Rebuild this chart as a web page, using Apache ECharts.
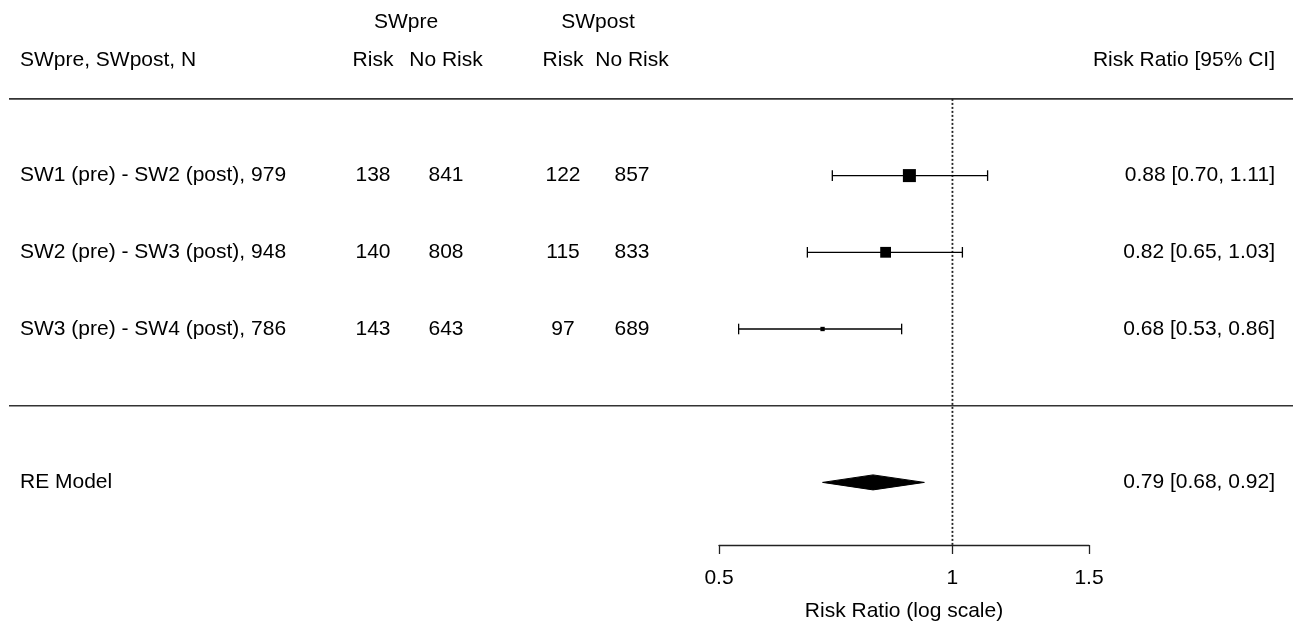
<!DOCTYPE html>
<html>
<head>
<meta charset="utf-8">
<script src="https://cdn.jsdelivr.net/npm/echarts@6/dist/echarts.min.js"></script>
<style>
  html, body { margin: 0; padding: 0; background: #fff; }
  #chart { width: 1293px; height: 622px; }
</style>
</head>
<body>
<div id="chart"></div>
<script>
// ---------------- data ----------------
const studyLabels = [
  "SW1 (pre) - SW2 (post), 979",
  "SW2 (pre) - SW3 (post), 948",
  "SW3 (pre) - SW4 (post), 786"
];
const preRisk    = [138, 140, 143];
const preNoRisk  = [841, 808, 643];
const postRisk   = [122, 115, 97];
const postNoRisk = [857, 833, 689];
const riskRatio  = [0.88, 0.82, 0.68];
const ciLower    = [0.70, 0.65, 0.53];
const ciUpper    = [1.11, 1.03, 0.86];

const pooledLabel = "RE Model";
const pooledRR    = [0.79];
const pooledLower = [0.68];
const pooledUpper = [0.92];

const axisTickValues = [0.5, 1, 1.5];
const groupHeaders   = ["SWpre", "SWpost"];
const columnHeaders  = ["Risk", "No Risk", "Risk", "No Risk"];
const leftHeader     = "SWpre, SWpost, N";
const rightHeader    = "Risk Ratio [95% CI]";
const axisTitle      = "Risk Ratio (log scale)";

// ---------------- layout / style ----------------
const FONT_FAMILY = '"Liberation Sans", Arial, sans-serif';
const FONT = '21px ' + FONT_FAMILY;
const TEXT_COLOR = '#000';
const LABEL_X = 20;
const COL_X = [373, 446, 563, 632];
const GROUP_X = [406, 598];
const RIGHT_X = 1275;
const LINE_X0 = 9, LINE_X1 = 1293;
const PX_PER_CEX = 8.67;
const CAP_HALF = 5.3;
const DIAMOND_HALF = 7.5;
const Y_MIN = -1.8162, Y_MAX = 5.2894;

const k = studyLabels.length;
const studyRows = studyLabels.map((_, i) => k - i);   // 3,2,1
const pooledRow = -1;
const headerLineRow = k + 1;  // 4
const sepLineRow = 0;
const colHeaderRow = k + 1.5;
const groupHeaderRow = k + 2;

// point sizes derived from sampling variances (metafor-style, plim 0.5..1.5)
const vi = studyLabels.map((_, i) =>
  1 / preRisk[i] - 1 / (preRisk[i] + preNoRisk[i]) +
  1 / postRisk[i] - 1 / (postRisk[i] + postNoRisk[i]));
const wi = vi.map(v => 1 / Math.sqrt(v));
const wMin = Math.min(...wi), wMax = Math.max(...wi);
const psize = wi.map(w => 0.5 + (w - wMin) / (wMax - wMin));

const fmt = v => v.toFixed(2);

function txt(text, x, y, align) {
  return {
    type: 'text',
    style: { text: text, x: x, y: y, font: FONT, fill: TEXT_COLOR, align: align, verticalAlign: 'middle' }
  };
}

const chart = echarts.init(document.getElementById('chart'), null, { renderer: 'canvas' });

const option = {
  backgroundColor: '#fff',
  animation: false,
  grid: { left: 719, right: 204, top: 0, height: 545, outerBoundsMode: 'none', containLabel: false },
  xAxis: {
    type: 'value',
    min: Math.log(0.5),
    max: Math.log(1.5),
    axisLine: { show: true, onZero: false, lineStyle: { color: '#222', width: 1.3 } },
    axisTick: { show: true, length: 9, customValues: axisTickValues.map(Math.log), lineStyle: { color: '#222', width: 1.3 } },
    axisLabel: {
      customValues: axisTickValues.map(Math.log),
      formatter: v => String(Math.round(Math.exp(v) * 100) / 100),
      margin: 23,
      color: TEXT_COLOR,
      fontSize: 21,
      fontFamily: FONT_FAMILY
    },
    splitLine: { show: false },
    name: axisTitle,
    nameLocation: 'middle',
    nameGap: 56,
    nameTextStyle: { color: TEXT_COLOR, fontSize: 21, fontFamily: FONT_FAMILY }
  },
  yAxis: {
    type: 'value',
    min: Y_MIN,
    max: Y_MAX,
    show: false,
    splitLine: { show: false }
  },
  series: [
    // header texts and horizontal rules
    {
      type: 'custom',
      clip: false,
      silent: true,
      data: [[0, groupHeaderRow]],
      renderItem: function (params, api) {
        const yG = api.coord([0, groupHeaderRow])[1];
        const yC = api.coord([0, colHeaderRow])[1];
        const yL1 = api.coord([0, headerLineRow])[1];
        const yL2 = api.coord([0, sepLineRow])[1];
        const children = [];
        groupHeaders.forEach((h, i) => children.push(txt(h, GROUP_X[i], yG, 'center')));
        columnHeaders.forEach((h, i) => children.push(txt(h, COL_X[i], yC, 'center')));
        children.push(txt(leftHeader, LABEL_X, yC, 'left'));
        children.push(txt(rightHeader, RIGHT_X, yC, 'right'));
        [yL1, yL2].forEach(y => children.push({
          type: 'line',
          shape: { x1: LINE_X0, y1: y, x2: LINE_X1, y2: y },
          style: { stroke: '#333', lineWidth: 1.6 }
        }));
        return { type: 'group', children: children };
      }
    },
    // dotted reference line at RR = 1
    {
      type: 'custom',
      clip: false,
      silent: true,
      data: [[0, headerLineRow]],
      renderItem: function (params, api) {
        const top = api.coord([0, headerLineRow]);
        const bottom = api.coord([0, Y_MIN]);
        return {
          type: 'line',
          shape: { x1: top[0], y1: top[1], x2: bottom[0], y2: bottom[1] },
          style: { stroke: '#222', lineWidth: 1.8, lineDash: [2, 2] }
        };
      }
    },
    // study rows
    {
      type: 'custom',
      clip: false,
      silent: true,
      encode: { x: 0, y: 1 },
      data: studyLabels.map((_, i) => [Math.log(riskRatio[i]), studyRows[i], Math.log(ciLower[i]), Math.log(ciUpper[i]), psize[i]]),
      renderItem: function (params, api) {
        const i = params.dataIndex;
        const row = api.value(1);
        const c = api.coord([api.value(0), row]);
        const l = api.coord([api.value(2), row]);
        const r = api.coord([api.value(3), row]);
        const s = api.value(4) * PX_PER_CEX;
        const y = c[1];
        const ls = { stroke: '#000', lineWidth: 1.3 };
        return {
          type: 'group',
          children: [
            txt(studyLabels[i], LABEL_X, y, 'left'),
            txt(String(preRisk[i]), COL_X[0], y, 'center'),
            txt(String(preNoRisk[i]), COL_X[1], y, 'center'),
            txt(String(postRisk[i]), COL_X[2], y, 'center'),
            txt(String(postNoRisk[i]), COL_X[3], y, 'center'),
            txt(fmt(riskRatio[i]) + ' [' + fmt(ciLower[i]) + ', ' + fmt(ciUpper[i]) + ']', RIGHT_X, y, 'right'),
            { type: 'line', shape: { x1: l[0], y1: y, x2: r[0], y2: y }, style: ls },
            { type: 'line', shape: { x1: l[0], y1: y - CAP_HALF, x2: l[0], y2: y + CAP_HALF }, style: ls },
            { type: 'line', shape: { x1: r[0], y1: y - CAP_HALF, x2: r[0], y2: y + CAP_HALF }, style: ls },
            { type: 'rect', shape: { x: c[0] - s / 2, y: y - s / 2, width: s, height: s }, style: { fill: '#000' } }
          ]
        };
      }
    },
    // pooled estimate diamond
    {
      type: 'custom',
      clip: false,
      silent: true,
      encode: { x: 0, y: 1 },
      data: pooledRR.map((v, i) => [Math.log(v), pooledRow, Math.log(pooledLower[i]), Math.log(pooledUpper[i])]),
      renderItem: function (params, api) {
        const i = params.dataIndex;
        const row = api.value(1);
        const c = api.coord([api.value(0), row]);
        const l = api.coord([api.value(2), row]);
        const r = api.coord([api.value(3), row]);
        const y = c[1];
        return {
          type: 'group',
          children: [
            txt(pooledLabel, LABEL_X, y, 'left'),
            txt(fmt(pooledRR[i]) + ' [' + fmt(pooledLower[i]) + ', ' + fmt(pooledUpper[i]) + ']', RIGHT_X, y, 'right'),
            {
              type: 'polygon',
              shape: { points: [[l[0], y], [c[0], y - DIAMOND_HALF], [r[0], y], [c[0], y + DIAMOND_HALF]] },
              style: { fill: '#000', stroke: '#000', lineWidth: 1 }
            }
          ]
        };
      }
    }
  ]
};

chart.setOption(option);
</script>
</body>
</html>
